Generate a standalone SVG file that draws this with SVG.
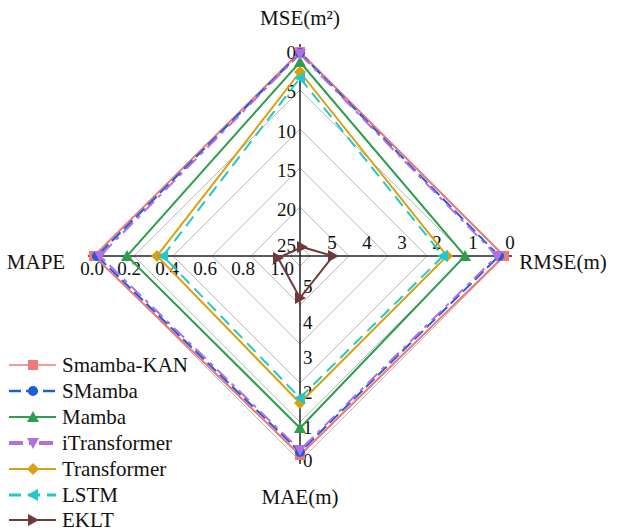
<svg xmlns="http://www.w3.org/2000/svg" width="624" height="532" viewBox="0 0 624 532" font-family="Liberation Serif, serif">
<defs>
<style>
text{font-family:'Liberation Serif','DejaVu Serif',serif;font-size:19px;fill:#111}
.t{font-size:21px}
.g{fill:none;stroke:#b8b8b8;stroke-width:1}
.ax{stroke:#222;stroke-width:1.5}
.s{fill:none;stroke-width:2}
</style>
<rect id="mq" x="-5" y="-5" width="10" height="10"/>
<circle id="mc" r="5"/>
<path id="mu" d="M0,-6 L6,5 L-6,5Z"/>
<path id="md" d="M0,6 L6,-5 L-6,-5Z"/>
<path id="ml" d="M-6,0 L5,-6 L5,6Z"/>
<path id="mr" d="M6,0 L-5,-6 L-5,6Z"/>
<path id="mx" d="M0,-6 L6,0 L0,6 L-6,0Z"/>
</defs>
<rect width="624" height="532" fill="#fff"/>
<g id="grid">
<polygon class="g" points="300,51 505,256 300,461 95,256"/>
<polygon class="g" points="300,90 466,256 300,422 134,256"/>
<polygon class="g" points="300,129 427,256 300,383 173,256"/>
<polygon class="g" points="300,168 388,256 300,344 212,256"/>
<polygon class="g" points="300,207 349,256 300,305 251,256"/>
<polygon class="g" points="300,246 310,256 300,266 290,256"/>
<line class="ax" x1="300" y1="44" x2="300" y2="464"/>
<line class="ax" x1="88" y1="256" x2="512" y2="256"/>
</g>
<g id="ticks">
<text x="296" y="59" text-anchor="end">0</text>
<text x="296" y="98" text-anchor="end">5</text>
<text x="296" y="138" text-anchor="end">10</text>
<text x="296" y="177" text-anchor="end">15</text>
<text x="296" y="216" text-anchor="end">20</text>
<text x="296" y="252" text-anchor="end">25</text>
<text x="510" y="249" text-anchor="middle">0</text>
<text x="473" y="249" text-anchor="middle">1</text>
<text x="437" y="249" text-anchor="middle">2</text>
<text x="402" y="249" text-anchor="middle">3</text>
<text x="367" y="249" text-anchor="middle">4</text>
<text x="332" y="249" text-anchor="middle">5</text>
<text x="92" y="275" text-anchor="middle">0.0</text>
<text x="129" y="275" text-anchor="middle">0.2</text>
<text x="167" y="275" text-anchor="middle">0.4</text>
<text x="205" y="275" text-anchor="middle">0.6</text>
<text x="243" y="275" text-anchor="middle">0.8</text>
<text x="282" y="275" text-anchor="middle">1.0</text>
<text x="303" y="293">5</text>
<text x="303" y="329">4</text>
<text x="303" y="364">3</text>
<text x="303" y="399">2</text>
<text x="303" y="434">1</text>
<text x="303" y="467">0</text>
</g>
<g id="axis-titles">
<text class="t" x="300" y="25" text-anchor="middle">MSE(m²)</text>
<text class="t" x="563" y="269" text-anchor="middle">RMSE(m)</text>
<text class="t" x="36" y="269" text-anchor="middle">MAPE</text>
<text class="t" x="300" y="504" text-anchor="middle">MAE(m)</text>
</g>
<g id="connectors">
<polygon class="s" stroke="#f07878" stroke-width="1.6" points="300,52 504,256 300,455 94,256"/>
<polygon class="s" stroke="#1a5fd6" stroke-width="2.6" stroke-dasharray="12,5" points="300,53 499,256 300,452 97,256"/>
<polygon class="s" stroke="#2e9e4e" points="300,62 465,256 300,428 127,256"/>
<polygon class="s" stroke="#b070e0" stroke-width="4" stroke-dasharray="14,6,4,6" points="300,54 497,256 300,450 100,256"/>
<polygon class="s" stroke="#daa010" points="300,72 447,256 300,403 157,256"/>
<polygon class="s" stroke="#22c8c8" stroke-width="3" stroke-dasharray="12,7" points="300,78 443,256 300,398 163,256"/>
<polygon class="s" stroke="#703838" points="302,247 333,256 300,298 278,258"/>
</g>
<g id="markers">
<g fill="#f07878"><use href="#mq" x="300" y="52"/><use href="#mq" x="504" y="256"/><use href="#mq" x="300" y="455"/><use href="#mq" x="94" y="256"/></g>
<g fill="#1a5fd6"><use href="#mc" x="300" y="53"/><use href="#mc" x="499" y="256"/><use href="#mc" x="300" y="452"/><use href="#mc" x="97" y="256"/></g>
<g fill="#2e9e4e"><use href="#mu" x="300" y="62"/><use href="#mu" x="465" y="256"/><use href="#mu" x="300" y="428"/><use href="#mu" x="127" y="256"/></g>
<g fill="#b070e0"><use href="#md" x="300" y="54"/><use href="#md" x="497" y="256"/><use href="#md" x="300" y="450"/><use href="#md" x="100" y="256"/></g>
<g fill="#daa010"><use href="#mx" x="300" y="72"/><use href="#mx" x="447" y="256"/><use href="#mx" x="300" y="403"/><use href="#mx" x="157" y="256"/></g>
<g fill="#22c8c8"><use href="#ml" x="300" y="78"/><use href="#ml" x="443" y="256"/><use href="#ml" x="300" y="398"/><use href="#ml" x="163" y="256"/></g>
<g fill="#703838"><use href="#mr" x="302" y="247"/><use href="#mr" x="333" y="256"/><use href="#mr" x="300" y="298"/><use href="#mr" x="278" y="258"/></g>
</g>
<g id="legend">
<line x1="9" y1="365" x2="56" y2="365" stroke="#f07878" stroke-width="1.6"/><use href="#mq" x="33" y="365" fill="#f07878"/><text class="t" x="62" y="372">Smamba-KAN</text>
<line x1="9" y1="391" x2="56" y2="391" stroke="#1a5fd6" stroke-width="2.6" stroke-dasharray="12,5"/><use href="#mc" x="33" y="391" fill="#1a5fd6"/><text class="t" x="62" y="398">SMamba</text>
<line x1="9" y1="417" x2="56" y2="417" stroke="#2e9e4e" stroke-width="2"/><use href="#mu" x="33" y="417" fill="#2e9e4e"/><text class="t" x="62" y="424">Mamba</text>
<line x1="9" y1="443" x2="56" y2="443" stroke="#b070e0" stroke-width="4" stroke-dasharray="14,6,4,6"/><use href="#md" x="33" y="443" fill="#b070e0"/><text class="t" x="62" y="450">iTransformer</text>
<line x1="9" y1="469" x2="56" y2="469" stroke="#daa010" stroke-width="2"/><use href="#mx" x="33" y="469" fill="#daa010"/><text class="t" x="62" y="476">Transformer</text>
<line x1="9" y1="495" x2="56" y2="495" stroke="#22c8c8" stroke-width="3" stroke-dasharray="12,7"/><use href="#ml" x="33" y="495" fill="#22c8c8"/><text class="t" x="62" y="502">LSTM</text>
<line x1="9" y1="520" x2="56" y2="520" stroke="#703838" stroke-width="2"/><use href="#mr" x="33" y="520" fill="#703838"/><text class="t" x="62" y="527">EKLT</text>
</g>
</svg>
